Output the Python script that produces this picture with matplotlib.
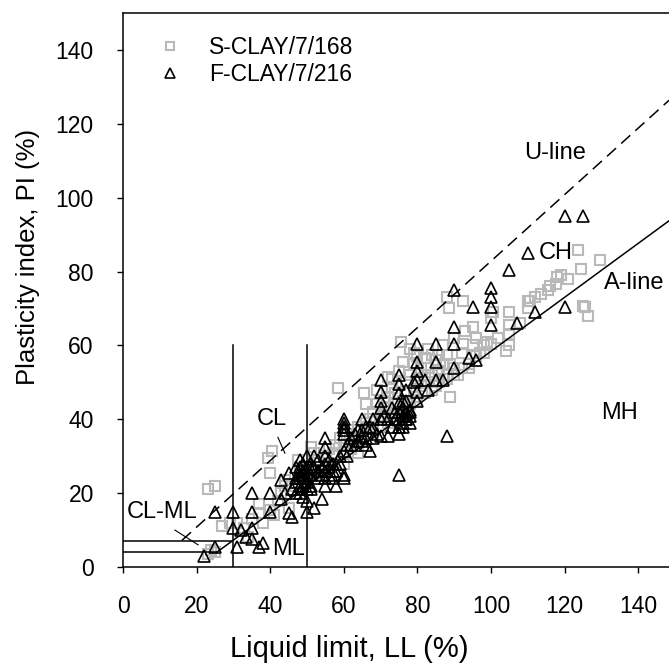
import numpy as np
import matplotlib
matplotlib.use("Agg")
import matplotlib.pyplot as plt

plt.rcParams['font.family'] = ['Liberation Sans', 'DejaVu Sans']

# S-CLAY (gray squares): liquid limit, plasticity index
s_ll = [23, 24, 25, 23, 25, 29, 31, 33, 34, 37, 37, 40, 41, 40, 39.5, 40.5, 44, 45, 47.5, 51,
        52, 53, 55, 57, 56, 58.5, 58, 59, 60, 61, 62, 63, 64, 65.5, 66, 67, 68, 68, 69, 70,
        71, 72, 72, 73, 73, 74, 74, 75.5, 76, 77, 77, 78, 78, 79, 79, 80, 80, 81, 81, 82,
        82, 83, 83, 84, 84, 85, 85, 86, 86, 87, 87, 88, 88, 88.5, 88, 89, 89, 90, 92.5, 92.5,
        92, 93, 95, 96, 98, 100, 100, 100.5, 104, 105, 105, 105, 105, 108, 110, 110, 110.5, 112, 113.5, 115.5,
        116, 117.8, 118, 119, 121, 123.7, 124.6, 125, 126.5, 129.6, 125.5, 96, 102, 62, 64, 66, 70, 72, 76, 60,
        54, 50, 48, 46, 43, 57, 63, 67, 71, 74, 79, 84, 91, 94, 97, 99,
        62, 65, 68, 70, 72, 74, 76, 78, 80, 82, 84, 86, 88, 90, 92, 94, 96, 98, 66, 69,
        75, 79, 83, 87, 90, 95, 27, 35, 38, 42, 44, 48, 52, 56, 58]
s_pi = [3.5, 4.5, 4, 21, 22, 12, 12, 10.5, 8, 17, 14.5, 15.5, 14, 25.5, 29.5, 31.5, 23.5, 16, 29, 32.5,
        31, 29, 30, 28, 32, 48.5, 33, 35, 33, 36, 37, 35, 38, 47, 39, 40, 42, 38, 44, 42,
        45, 51.5, 46, 51, 48.5, 44, 47, 61, 55.5, 50, 47, 59, 52, 48, 55, 51, 57, 49, 54, 56.5,
        52, 50, 54, 57.5, 52, 56, 49, 57.5, 53, 51, 55, 57.5, 52, 70, 73, 55, 46, 54, 72, 60.5,
        58, 64, 65, 62, 60, 60.5, 67.5, 69, 58.5, 69, 65.5, 63, 60, 66, 72, 70, 72, 73, 74, 75,
        76, 76.5, 78.5, 79, 78, 85.7, 80.7, 70.8, 68, 83, 70.4, 57, 62, 33, 31, 36, 40, 43, 45, 28,
        25, 26, 24, 22, 20, 31, 34, 38, 41, 42, 46, 48, 52, 54, 58, 61,
        32, 34, 36, 38, 39, 41, 42, 44, 45, 47, 48, 50, 51, 52, 54, 55, 57, 58, 44, 48,
        53, 58, 59, 60, 62, 60, 11, 13, 12, 18, 22, 26, 25, 28, 30]

# F-CLAY (black triangles)
f_ll = [22, 25, 25, 30, 30, 31, 32, 33.5, 35, 35, 37, 38, 35, 35, 40, 40, 43, 44, 45, 46,
        43, 45, 47, 47, 48, 48, 48, 49, 49, 49, 49, 50, 50, 50, 50, 50, 50, 51, 51, 51,
        52, 52, 52, 53, 53, 54, 54, 55, 55, 55, 55, 55, 55, 55, 56, 57, 58, 58, 59, 59,
        60, 60, 60, 60, 60, 60, 61, 62, 63, 64, 65, 65, 66, 67, 68, 69, 70, 70, 70, 70,
        70, 70, 72, 73, 74, 75, 75, 75, 75, 75, 75, 75, 75, 76, 76, 77, 77, 78, 78, 77,
        80, 80, 80, 80, 80, 80, 82, 83, 85, 85, 85, 87, 90, 90, 90, 90, 94, 95, 96, 100,
        100, 100, 100, 105, 107, 110, 112, 120, 125, 120, 88, 46, 47, 48, 49, 50, 47, 48, 49, 51,
        53, 56, 57, 62, 64, 66, 67, 72, 74, 76, 77, 78, 76, 75, 60, 65, 68,
        48, 49, 48.5, 49.5, 47.5, 50, 51, 53, 54, 56, 57, 58, 61, 63, 65, 66, 68, 71, 73, 76,
        77, 79, 75, 76, 77, 78, 60, 60]
f_pi = [3, 5.5, 15, 15, 10.5, 5.5, 10, 8, 10.5, 7.5, 5.5, 6.5, 20, 15, 20, 15, 18.5, 20, 14.5, 13.5,
        23.5, 25.5, 24, 27, 29, 22, 20, 28, 25, 22, 19, 30, 27, 24, 21, 18, 15, 28, 25, 22,
        30, 27, 16, 29, 24, 27, 18.5, 35, 32.5, 30, 28, 26, 24, 22, 27, 24, 22, 26, 28, 30,
        25, 24, 31.5, 37, 36, 40, 30, 35, 33, 34, 40, 35.5, 33, 31.5, 37.5, 36, 35.5, 40, 43, 45,
        47.5, 50.5, 35.5, 38, 40, 52, 49.5, 47, 44.5, 42, 40, 36, 25, 41, 43, 40, 42, 41, 39, 45,
        60.5, 55.5, 53, 50.5, 47.5, 45, 50.5, 48, 60.5, 55.5, 50.5, 50.5, 65, 60.5, 54, 75, 56.5, 70.5, 56, 75.5,
        73, 70.5, 65.5, 80.5, 66, 85, 69, 95, 95, 70.5, 35.5, 21, 23, 25, 26, 23, 20, 27, 24, 21,
        26, 29, 26, 33, 37, 35, 38, 40, 42, 38, 40, 42, 43, 38, 38, 34, 35,
        24, 26, 21, 23, 25, 25.5, 26.5, 26, 25, 25, 28, 28, 33, 36, 37, 38, 40, 41, 43, 45,
        48, 50, 38, 39, 41.5, 42.5, 38, 39]

fig = plt.figure(figsize=(6.69, 6.63), dpi=100)
ax = fig.add_axes([0.1839, 0.1448, 0.8161, 0.8356])

ax.plot(s_ll, s_pi, 's', ms=7.5, mfc='none', mec='#b9b9b9', mew=1.5, ls='none',
        label='S-CLAY/7/168')
ax.plot(f_ll, f_pi, '^', ms=9, mfc='none', mec='black', mew=1.2, ls='none',
        label='F-CLAY/7/216')

xmax = 148.4
# A-line and U-line
ax.plot([25.5, xmax], [4, 0.73 * (xmax - 20)], color='black', lw=1.1)
ax.plot([16, xmax], [7.2, 0.9 * (xmax - 8)], color='black', lw=1.1, dashes=(8, 4.5))
# zone boundaries
ax.plot([0, 25.5], [4, 4], color='black', lw=1.1)
ax.plot([0, 29.6], [7, 7], color='black', lw=1.1)
ax.plot([30, 30], [0, 60], color='black', lw=1.1)
ax.plot([50, 50], [0, 60], color='black', lw=1.1)
ax.plot([14.1, 20.4], [10, 6], color='black', lw=0.8)
ax.plot([42.1, 44.0], [35.1, 30.8], color='black', lw=0.8)

tk = dict(fontsize=17, ha='center', va='center')
ax.text(40.5, 40, 'CL', **tk)
ax.text(10.6, 15, 'CL-ML', **tk)
ax.text(45, 5, 'ML', **tk)
ax.text(117.5, 85, 'CH', **tk)
ax.text(139, 77, 'A-line', **tk)
ax.text(135, 41.6, 'MH', **tk)
ax.text(117.5, 112, 'U-line', **tk)

ax.set_xlim(0, xmax)
ax.set_ylim(0, 150)
ax.set_xticks(np.arange(0, 141, 20))
ax.set_yticks(np.arange(0, 141, 20))
ax.tick_params(direction='out', length=4.5, width=1, labelsize=16.5)
ax.tick_params(axis='x', pad=16)
ax.tick_params(axis='y', pad=16.5)
ax.spines['right'].set_visible(False)
for s in ['left', 'bottom', 'top']:
    ax.spines[s].set_linewidth(1.1)

ax.set_xlabel('Liquid limit, LL (%)', fontsize=21)
ax.set_ylabel('Plasticity index, PI (%)', fontsize=18.5)
ax.xaxis.set_label_coords(0.414, -0.122)
ax.yaxis.set_label_coords(-0.152, 0.56)

ax.legend(loc='upper left', bbox_to_anchor=(0.065, 0.958), frameon=False, fontsize=16.5,
          handlelength=1, handletextpad=1.2, labelspacing=0.15, borderpad=0, borderaxespad=0,
          markerscale=0.8)

fig.savefig('out.png', dpi=100)
